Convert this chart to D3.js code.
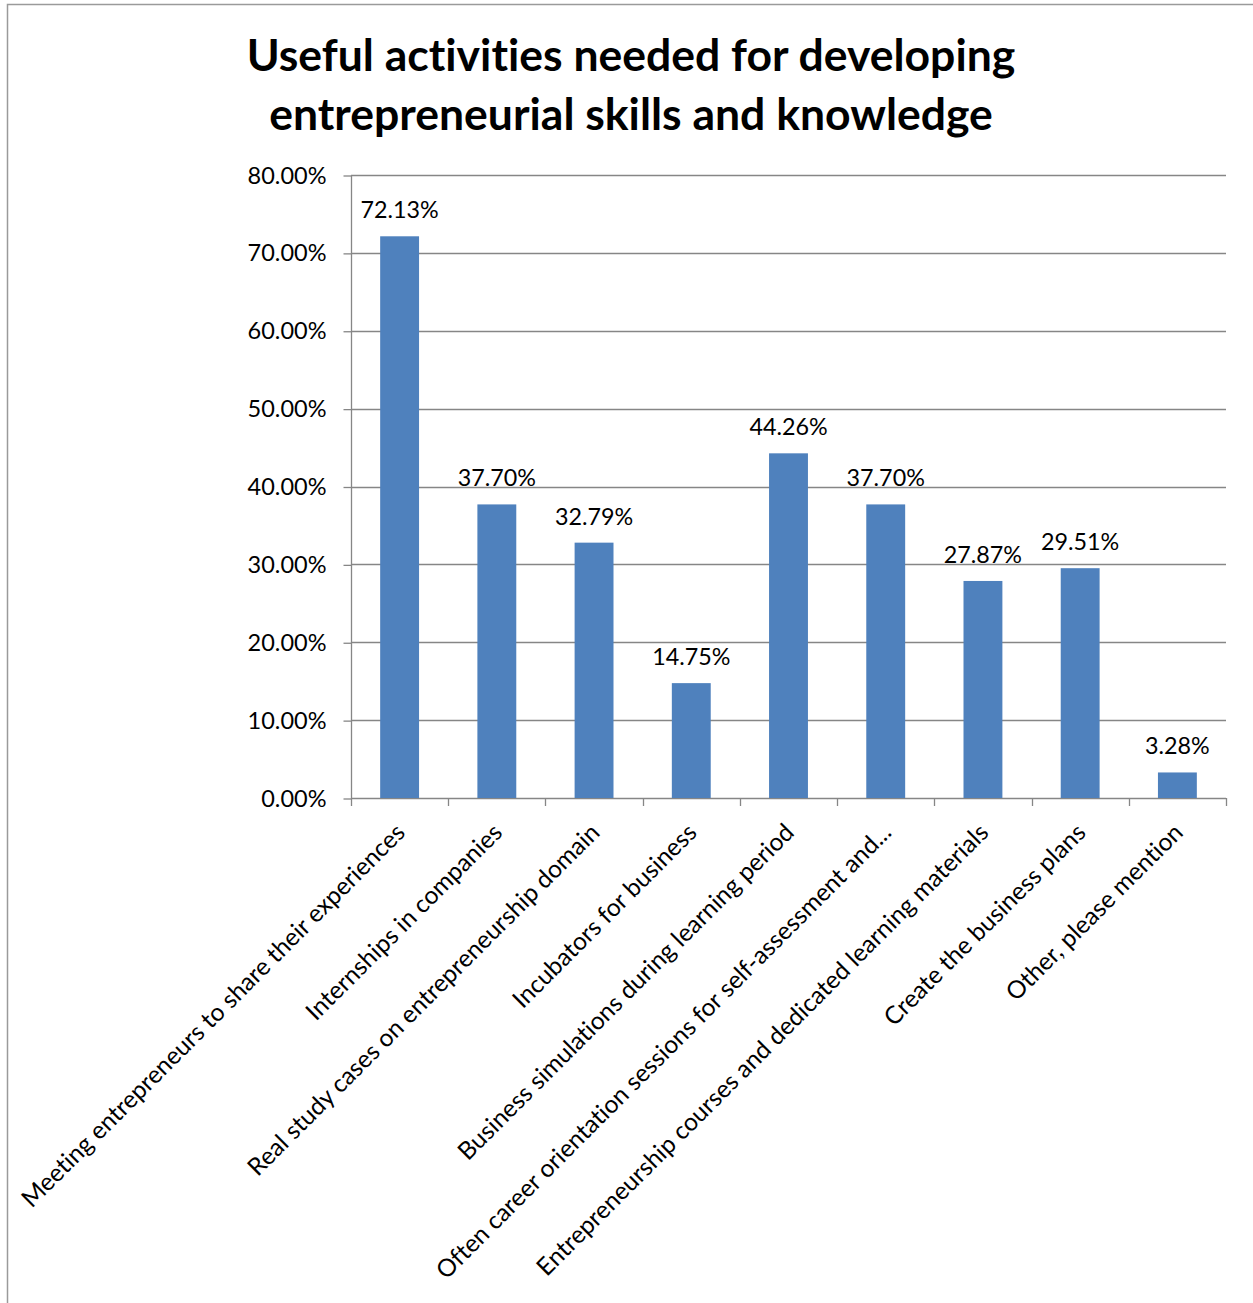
<!DOCTYPE html>
<html>
<head>
<meta charset="utf-8">
<script src="https://cdn.jsdelivr.net/npm/d3@7"></script>
<style>
  html, body { margin: 0; padding: 0; background: #fff; }
  svg { display: block; }
  text { font-family: Lato, "Open Sans", sans-serif; fill: #000; font-variant-ligatures: none; }
</style>
</head>
<body>
<svg id="chart" width="1253" height="1303"></svg>
<script>
// Survey answers: share of respondents choosing each activity
const categories = [
  "Meeting entrepreneurs to share their experiences",
  "Internships in companies",
  "Real study cases on entrepreneurship domain",
  "Incubators for business",
  "Business simulations during learning period",
  "Often career orientation sessions for self-assessment and...",
  "Entrepreneurship courses and dedicated learning materials",
  "Create the business plans",
  "Other, please mention"
];
const values = [72.13, 37.70, 32.79, 14.75, 44.26, 37.70, 27.87, 29.51, 3.28];
const yTicks = [0, 10, 20, 30, 40, 50, 60, 70, 80];
const titleLines = [
  "Useful activities needed for developing",
  "entrepreneurial skills and knowledge"
];

const svg = d3.select("#chart");
const plot = { left: 351, right: 1226, top: 175, bottom: 798 };

// Outer frame (left and top edges visible within the page)
svg.append("rect")
  .attr("x", 7.5).attr("y", 4.5)
  .attr("width", 1300).attr("height", 1400)
  .attr("fill", "none").attr("stroke", "#9a9a9a").attr("stroke-width", 1.5);

// Title
svg.append("g").selectAll("text").data(titleLines).join("text")
  .attr("x", 631)
  .attr("y", (d, i) => 71 + i * 59)
  .attr("text-anchor", "middle")
  .attr("font-size", 44.5)
  .attr("font-weight", "bold")
  .text(d => d);

const x = d3.scaleBand()
  .domain(categories)
  .range([plot.left, plot.right])
  .paddingInner(0.6)
  .paddingOuter(0.3);

const y = d3.scaleLinear()
  .domain([0, 80])
  .range([plot.bottom, plot.top]);

// Horizontal gridlines
svg.append("g").selectAll("line").data(yTicks.slice(1)).join("line")
  .attr("x1", plot.left).attr("x2", plot.right)
  .attr("y1", d => Math.round(y(d)) + 0.5).attr("y2", d => Math.round(y(d)) + 0.5)
  .attr("stroke", "#868686").attr("stroke-width", 1.3);

// Y axis
const yAxis = d3.axisLeft(y)
  .tickValues(yTicks)
  .tickSize(8)
  .tickPadding(17)
  .tickFormat(d => d.toFixed(2) + "%");
const yg = svg.append("g")
  .attr("transform", `translate(${plot.left + 0.5},0.5)`)
  .call(yAxis);
yg.select(".domain").attr("stroke", "#868686").attr("stroke-width", 1.3)
  .attr("d", `M0,${plot.bottom}V${plot.top}`);
yg.selectAll(".tick line").attr("stroke", "#868686").attr("stroke-width", 1.3);
yg.selectAll(".tick text")
  .attr("font-family", "Lato, sans-serif")
  .attr("font-size", 23.5)
  .attr("fill", "#000");

// X axis baseline and category separator ticks
const boundaries = d3.range(categories.length + 1).map(i => plot.left + i * (plot.right - plot.left) / categories.length);
svg.append("line")
  .attr("x1", plot.left).attr("x2", plot.right)
  .attr("y1", plot.bottom + 0.5).attr("y2", plot.bottom + 0.5)
  .attr("stroke", "#868686").attr("stroke-width", 1.3);
svg.append("g").selectAll("line").data(boundaries).join("line")
  .attr("x1", d => Math.round(d) + 0.5).attr("x2", d => Math.round(d) + 0.5)
  .attr("y1", plot.bottom).attr("y2", plot.bottom + 8)
  .attr("stroke", "#868686").attr("stroke-width", 1.3);

// Bars
const data = categories.map((c, i) => ({ c, v: values[i] }));
svg.append("g").selectAll("rect").data(data).join("rect")
  .attr("x", d => x(d.c))
  .attr("y", d => y(d.v))
  .attr("width", x.bandwidth())
  .attr("height", d => y(0) - y(d.v))
  .attr("fill", "#4f81bd");

// Value labels
svg.append("g").selectAll("text").data(data).join("text")
  .attr("x", d => x(d.c) + x.bandwidth() / 2)
  .attr("y", d => y(d.v) - 18)
  .attr("text-anchor", "middle")
  .attr("font-size", 23.3)
  .text(d => d.v.toFixed(2) + "%");

// Rotated category labels
svg.append("g").selectAll("text").data(categories).join("text")
  .attr("transform", d => `translate(${x(d) + x.bandwidth() / 2 + 7},${plot.bottom + 36}) rotate(-45)`)
  .attr("text-anchor", "end")
  .attr("font-size", 24.5)
  .text(d => d);
</script>
</body>
</html>
